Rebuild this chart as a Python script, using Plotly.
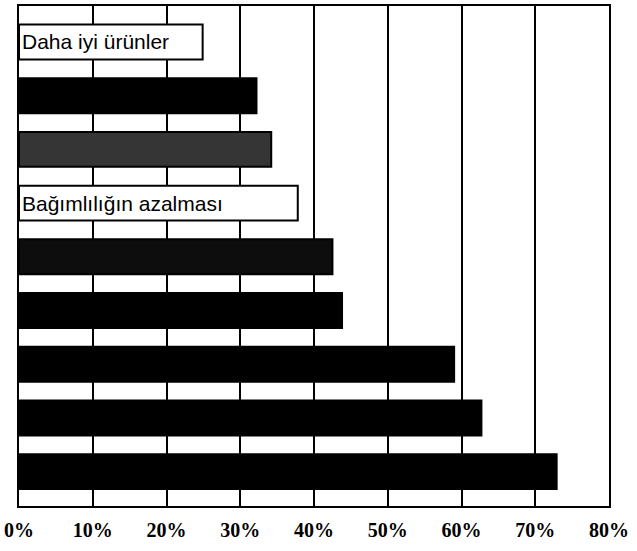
import plotly.graph_objects as go

# Data (top to bottom)
labels = ["Daha iyi ürünler", "", "", "Bağımlılığın azalması", "", "", "", "", ""]
values = [24.9, 32.2, 34.2, 37.8, 42.5, 43.8, 59.0, 62.7, 72.9]
fill_colors = ["#ffffff", "#000000", "#353535", "#ffffff", "#0d0d0d",
               "#000000", "#000000", "#000000", "#000000"]
tick_vals = [0, 10, 20, 30, 40, 50, 60, 70, 80]
tick_text = ["0%", "10%", "20%", "30%", "40%", "50%", "60%", "70%", "80%"]

positions = list(range(len(values)))

fig = go.Figure(
    go.Bar(
        x=values,
        y=positions,
        orientation="h",
        width=0.65,
        text=labels,
        textposition="inside",
        insidetextanchor="start",
        constraintext="none",
        textfont=dict(family="Liberation Sans, Arial, sans-serif",
                      size=21, color="#000000"),
        marker=dict(color=fill_colors, line=dict(color="#000000", width=2)),
        hoverinfo="skip",
    )
)

fig.update_layout(
    width=637,
    height=551,
    margin=dict(l=18, r=28, t=4, b=45),
    paper_bgcolor="white",
    plot_bgcolor="white",
    showlegend=False,
    xaxis=dict(
        range=[0, 80],
        tickvals=tick_vals,
        ticktext=tick_text,
        showgrid=True,
        gridcolor="#000000",
        gridwidth=2,
        showline=True,
        linecolor="#000000",
        linewidth=2,
        mirror=True,
        zeroline=False,
        ticks="",
        ticklabelstandoff=5,
        tickfont=dict(family="Liberation Serif, Times New Roman, serif", size=20,
                      color="#000000", weight="bold"),
    ),
    yaxis=dict(
        range=[8.64, -0.67],
        showticklabels=False,
        showgrid=False,
        showline=True,
        linecolor="#000000",
        linewidth=2,
        mirror=True,
        zeroline=False,
        ticks="",
    ),
)

fig.write_html("out.html")
